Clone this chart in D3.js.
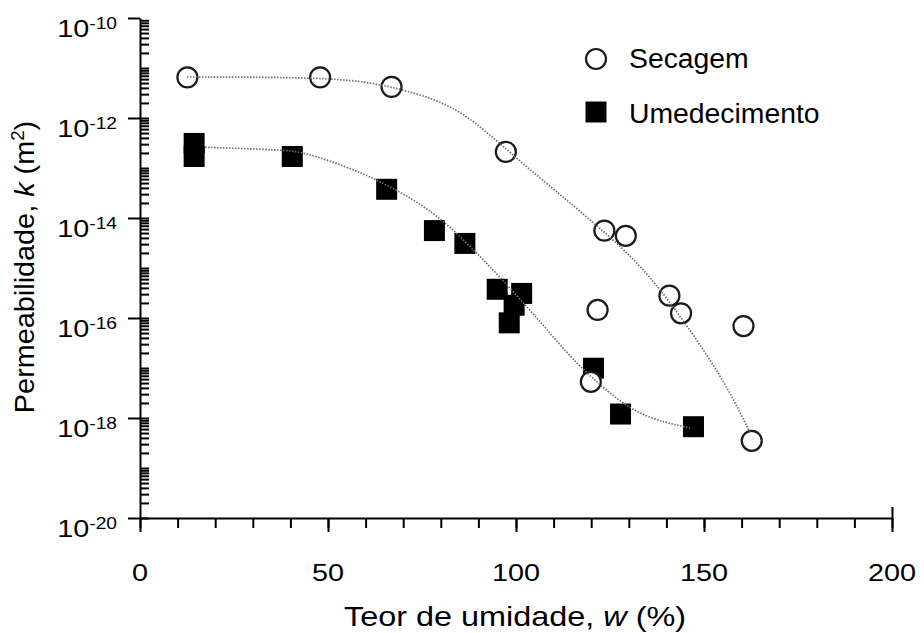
<!DOCTYPE html>
<html>
<head>
<meta charset="utf-8">
<script src="https://d3js.org/d3.v7.min.js"></script>
<style>
  body { margin: 0; background: #fff; }
  text { font-family: "Liberation Sans", Arial, sans-serif; fill: #000; }
  .axis path, .axis line { stroke: #000; }
</style>
</head>
<body>
<div id="chart"></div>
<script>

// values
var secagemW = [12.6, 47.9, 66.9, 97.3, 123.5, 129.2, 121.7, 140.8, 143.9, 160.5, 162.7, 119.9];
var secagemK = [6.5e-12, 6.5e-12, 4.2e-12, 2.1e-13, 5.6e-15, 4.4e-15, 1.45e-16, 2.8e-16, 1.24e-16, 6.9e-17, 3.5e-19, 5.3e-18];

var umedW = [14.4, 14.4, 40.5, 65.6, 78.3, 86.4, 95.0, 101.5, 99.5, 98.2, 120.6, 127.8, 147.2];
var umedK = [3.1e-13, 1.7e-13, 1.7e-13, 3.75e-14, 5.6e-15, 3.1e-15, 3.75e-16, 3.1e-16, 1.8e-16, 8.0e-17, 9.9e-18, 1.2e-18, 6.7e-19];

// hand drawn trend lines
var secagemFitW = [12.5, 29.3, 47.9, 58.5, 67.0, 77.9, 87.0, 97.3, 106.4, 114.4, 122.3, 131.1, 138.3, 144.4, 150.8, 156.9, 162.2];
var secagemFitK = [6.6e-12, 6.6e-12, 6.3e-12, 5.5e-12, 4.2e-12, 2.5e-12, 1.15e-12, 2.4e-13, 6.3e-14, 2.0e-14, 6.3e-15, 1.6e-15, 3.8e-16, 9.1e-17, 1.82e-17, 3.3e-18, 5.2e-19];

var umedFitW = [17.3, 37.8, 43.4, 55.1, 63.0, 72.6, 80.6, 89.6, 95.7, 103.7, 109.0, 115.2, 122.3, 131.1, 140.2, 146.3];
var umedFitK = [2.6e-13, 2.3e-13, 2.1e-13, 1.05e-13, 5.8e-14, 2.4e-14, 9.1e-15, 2.0e-15, 6.6e-16, 1.45e-16, 5.0e-17, 1.45e-17, 4.6e-18, 1.32e-18, 7.9e-19, 6.3e-19];

var xTickValues = [0, 50, 100, 150, 200];
var xTickLabels = ["0", "50", "100", "150", "200"];
var yTickValues = [1e-20, 1e-18, 1e-16, 1e-14, 1e-12, 1e-10];
var yTickExponents = ["-20", "-18", "-16", "-14", "-12", "-10"];
var seriesNames = ["Secagem", "Umedecimento"];

var width = 924, height = 633;

var svg = d3.select("#chart")
  .append("svg")
    .attr("width", width)
    .attr("height", height);

var x = d3.scaleLinear().domain([0, 200]).range([140, 892]);
var y = d3.scaleLog().domain([1e-20, 1e-10]).range([518, 18]);

// minor log ticks 1..9 per decade
var yMinor = [];
for (var e = -20; e < -10; e++) {
  for (var m = 1; m < 10; m++) yMinor.push(m * Math.pow(10, e));
}

svg.append("g")
  .attr("class", "axis")
  .attr("transform", "translate(140,0)")
  .call(d3.axisRight(y).tickValues(yMinor).tickSize(9).tickSizeOuter(0).tickFormat(""))
  .call(function(g) { g.select(".domain").remove(); })
  .selectAll("line").attr("stroke-width", 2);

svg.append("g")
  .attr("class", "axis")
  .attr("transform", "translate(140,0)")
  .call(d3.axisLeft(y).tickValues(yTickValues).tickSize(12).tickSizeOuter(0).tickFormat(""))
  .call(function(g) {
    g.select(".domain").attr("stroke-width", 2);
    g.selectAll("line").attr("stroke-width", 2);
  });

svg.append("g")
  .attr("class", "axis")
  .attr("transform", "translate(0,518)")
  .call(d3.axisBottom(x).tickValues(d3.range(0, 201, 10)).tickSize(10).tickSizeOuter(0).tickFormat(""))
  .call(function(g) {
    g.select(".domain").attr("stroke-width", 2);
    g.selectAll("line").attr("stroke-width", 2);
  });

svg.append("g")
  .attr("class", "axis")
  .attr("transform", "translate(0,518)")
  .call(d3.axisBottom(x).tickValues(xTickValues).tickSize(14).tickSizeOuter(0).tickFormat(""))
  .call(function(g) {
    g.select(".domain").remove();
    g.selectAll("line").attr("stroke-width", 2);
  });

svg.append("g")
  .attr("class", "axis")
  .attr("transform", "translate(0,518)")
  .call(d3.axisTop(x).tickValues([200]).tickSize(11).tickSizeOuter(0).tickFormat(""))
  .call(function(g) {
    g.select(".domain").remove();
    g.selectAll("line").attr("stroke-width", 2);
  });

// tick labels
svg.selectAll(".xlab")
  .data(xTickValues)
  .enter()
  .append("text")
    .attr("class", "xlab")
    .attr("transform", function(d) { return "translate(" + x(d) + ",581) scale(1.2,1)"; })
    .attr("text-anchor", "middle")
    .style("font-size", "24px")
    .text(function(d, i) { return xTickLabels[i]; });

var ylab = svg.selectAll(".ylab")
  .data(yTickValues)
  .enter()
  .append("text")
    .attr("class", "ylab")
    .attr("transform", function(d) { return "translate(117," + (y(d) + 18.5) + ") scale(1.2,1)"; })
    .attr("text-anchor", "end")
    .style("font-size", "24px");
ylab.append("tspan").text("10");
ylab.append("tspan")
  .attr("dy", -7.5)
  .style("font-size", "16px")
  .text(function(d, i) { return yTickExponents[i]; });

// axis titles
var xt = svg.append("text")
  .attr("transform", "translate(515,626) scale(1.2,1)")
  .attr("text-anchor", "middle")
  .style("font-size", "27px");
xt.append("tspan").text("Teor de umidade, ");
xt.append("tspan").style("font-style", "italic").text("w");
xt.append("tspan").text(" (%)");

var yt = svg.append("text")
  .attr("transform", "translate(34,267) rotate(-90) scale(1.03,1)")
  .attr("text-anchor", "middle")
  .style("font-size", "28px");
yt.append("tspan").text("Permeabilidade, ");
yt.append("tspan").style("font-style", "italic").text("k");
yt.append("tspan").text(" (m");
yt.append("tspan").attr("dy", -10).style("font-size", "18px").text("2");
yt.append("tspan").attr("dy", 10).text(")");

// markers
var sq = 21;
svg.selectAll(".umed")
  .data(umedW)
  .enter()
  .append("rect")
    .attr("class", "umed")
    .attr("x", function(d) { return x(d) - sq / 2; })
    .attr("y", function(d, i) { return y(umedK[i]) - sq / 2; })
    .attr("width", sq)
    .attr("height", sq)
    .style("fill", "#000");

svg.selectAll(".sec")
  .data(secagemW)
  .enter()
  .append("circle")
    .attr("class", "sec")
    .attr("cx", function(d) { return x(d); })
    .attr("cy", function(d, i) { return y(secagemK[i]); })
    .attr("r", 10)
    .style("fill", "#fff")
    .attr("stroke", "#1a1a1a")
    .attr("stroke-width", 2.2);

// trend lines on top
var line = d3.line()
  .x(function(d) { return x(d[0]); })
  .y(function(d) { return y(d[1]); })
  .curve(d3.curveBasis);

svg.append("path")
  .datum(d3.zip(secagemFitW, secagemFitK))
  .attr("d", line)
  .attr("fill", "none")
  .attr("stroke", "#6e6e6e")
  .attr("stroke-width", 1.7)
  .attr("stroke-dasharray", "1.5,1.5");

svg.append("path")
  .datum(d3.zip(umedFitW, umedFitK))
  .attr("d", line)
  .attr("fill", "none")
  .attr("stroke", "#6e6e6e")
  .attr("stroke-width", 1.7)
  .attr("stroke-dasharray", "1.5,1.5");

// legend
svg.append("circle")
  .attr("cx", 596).attr("cy", 59).attr("r", 10)
  .style("fill", "#fff")
  .attr("stroke", "#1a1a1a")
  .attr("stroke-width", 2.2);
svg.append("rect")
  .attr("x", 596 - sq / 2).attr("y", 112 - sq / 2)
  .attr("width", sq).attr("height", sq)
  .style("fill", "#000");

svg.selectAll(".leg")
  .data(seriesNames)
  .enter()
  .append("text")
    .attr("class", "leg")
    .attr("transform", function(d, i) { return "translate(629," + (i === 0 ? 68 : 123) + ") scale(1.05,1)"; })
    .style("font-size", "27px")
    .text(function(d) { return d; });

</script>
</body>
</html>
